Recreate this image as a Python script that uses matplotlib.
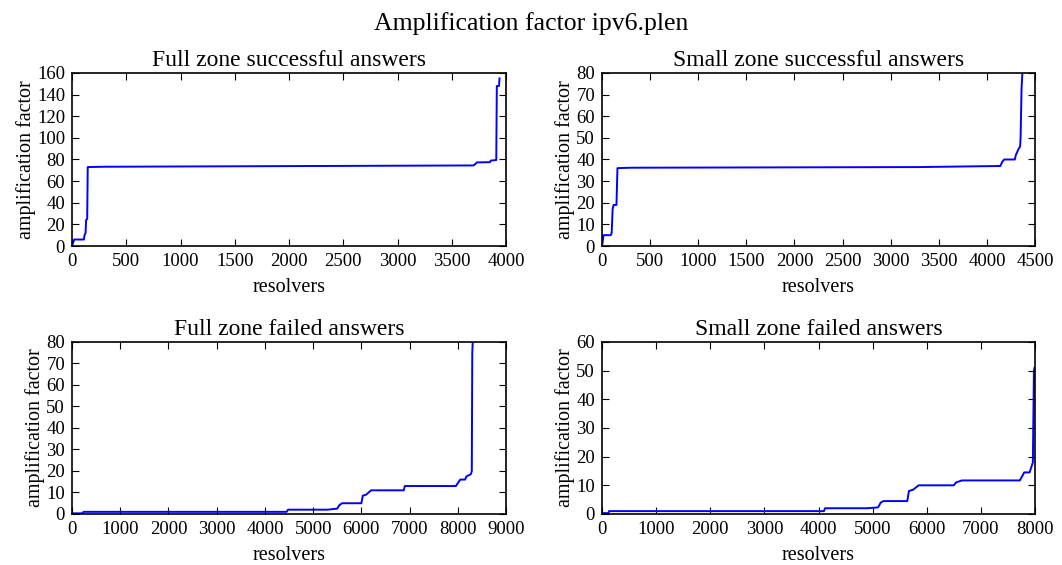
import matplotlib
matplotlib.use('Agg')
import matplotlib.pyplot as plt
from matplotlib.ticker import MultipleLocator

# breakpoints of the sorted amplification factor curves (resolver index, factor)
full_ok_x = [0, 10, 20, 110, 115, 125, 130, 140, 145, 300, 3700, 3720, 3730, 3850, 3860, 3910, 3915, 3935, 3940]
full_ok_y = [0, 3, 6, 6, 10, 12, 24, 25, 73, 73.3, 74.5, 76, 77.3, 77.5, 79, 79.5, 148, 148, 155]

small_ok_x = [0, 15, 90, 100, 110, 120, 150, 160, 300, 3300, 4140, 4160, 4180, 4290, 4300, 4330, 4345, 4350, 4360, 4375]
small_ok_y = [0, 5, 5, 6, 17, 19, 19, 36, 36.2, 36.5, 37, 39, 40, 40, 42, 45, 46, 50, 73, 85]

full_fail_x = [0, 220, 240, 4450, 4480, 5300, 5500, 5540, 5600, 6000, 6030, 6100, 6200, 6880, 6900, 7960, 8050, 8150, 8180, 8270, 8290, 8300, 8320]
full_fail_y = [0.3, 0.3, 1, 1, 2, 2, 2.5, 4, 5, 5, 8.5, 9, 11, 11, 13, 13, 16, 16, 17.5, 18.5, 20, 75, 85]

small_fail_x = [0, 120, 130, 4100, 4120, 4900, 5100, 5150, 5200, 5640, 5670, 5750, 5850, 6500, 6540, 6650, 7720, 7800, 7900, 7960, 7980, 7990]
small_fail_y = [0.3, 0.3, 1, 1, 2, 2, 2.3, 4, 4.5, 4.5, 8, 8.5, 10, 10, 11, 11.7, 11.7, 14.5, 14.5, 18, 50, 51]

titles = ["Full zone successful answers", "Small zone successful answers",
          "Full zone failed answers", "Small zone failed answers"]
xmax = [4000, 4500, 9000, 8000]
ymax = [160, 80, 80, 60]
xstep = [500, 500, 1000, 1000]
ystep = [20, 10, 10, 10]

plt.rcParams['font.family'] = 'Liberation Serif'

fig = plt.figure(figsize=(10.62, 5.65), dpi=100)
fig.patch.set_facecolor('white')

boxes = [
    [0.0678, 0.5646, 0.4087, 0.3062],
    [0.5669, 0.5646, 0.4077, 0.3062],
    [0.0678, 0.0903, 0.4087, 0.3044],
    [0.5669, 0.0903, 0.4077, 0.3044],
]
series = [(full_ok_x, full_ok_y), (small_ok_x, small_ok_y),
          (full_fail_x, full_fail_y), (small_fail_x, small_fail_y)]

for i in range(4):
    ax = fig.add_axes(boxes[i])
    xs, ys = series[i]
    ax.plot(xs, ys, color='blue', lw=1.4)
    ax.set_xlim(0, xmax[i])
    ax.set_ylim(0, ymax[i])
    ax.xaxis.set_major_locator(MultipleLocator(xstep[i]))
    ax.yaxis.set_major_locator(MultipleLocator(ystep[i]))
    ax.set_title(titles[i], fontsize=17, pad=5)
    ax.set_xlabel("resolvers", fontsize=14.5, labelpad=5.5)
    ax.set_ylabel("amplification factor", fontsize=14.5, labelpad=1)
    ax.tick_params(direction='in', top=True, right=True, labelsize=13.5,
                   length=5, width=0.8, pad=5)
    for sp in ax.spines.values():
        sp.set_linewidth(1.2)

fig.suptitle("Amplification factor ipv6.plen", fontsize=18.5, y=0.978)

fig.savefig("out.png", dpi=100, facecolor='white')
